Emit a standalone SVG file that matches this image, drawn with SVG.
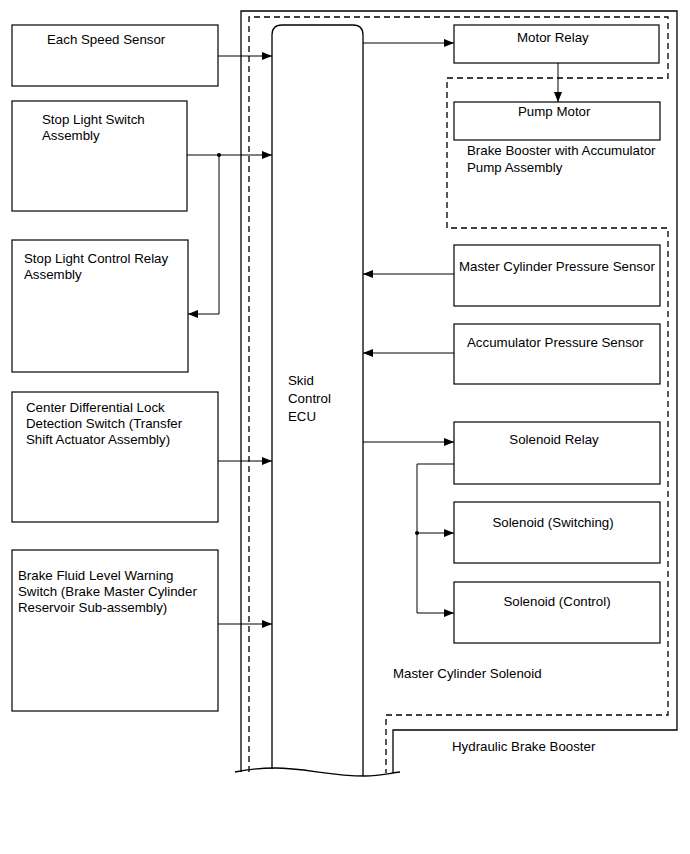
<svg xmlns="http://www.w3.org/2000/svg" width="690" height="854" viewBox="0 0 690 854">
<defs>
<marker id="ah" markerWidth="10" markerHeight="8" refX="10" refY="4" orient="auto" markerUnits="userSpaceOnUse">
<path d="M0,0 L10,4 L0,8 Z" fill="#000"/>
</marker>
</defs>
<style>
.box{fill:#fff;stroke:#000;stroke-width:1.2}
.t{font-family:"Liberation Sans",Arial,sans-serif;font-size:13.3px;fill:#000}
.c{fill:none;stroke:#000;stroke-width:1}
.a{marker-end:url(#ah)}
.dash{fill:none;stroke:#000;stroke-width:1.3;stroke-dasharray:6,4}
.solid{fill:none;stroke:#000;stroke-width:1.3}
</style>
<rect width="690" height="854" fill="#fff"/>
<g id="hydraulic-brake-booster">
<path class="solid" d="M241,772 L241,11 L677,11 L677,730 L393,730 L393,773"/>
<text class="t" x="452" y="751">Hydraulic Brake Booster</text>
</g>
<g id="master-cylinder-solenoid">
<path class="dash" d="M249,772 L249,17 L668,17 L668,78 L447,78 L447,228 L668,228 L668,715 L386,715 L386,773"/>
<text class="t" x="393" y="678">Master Cylinder Solenoid</text>
</g>
<g id="ecu">
<path class="solid" fill="#fff" d="M272,769 L272,35 Q272,25 282,25 L353,25 Q363,25 363,35 L363,776"/>
<path class="solid" d="M235,772 C250,769 262,768 275,768 C305,768 330,776 365,776 C380,776 390,773 400,772"/>
<text class="t" x="288" y="385">Skid</text>
<text class="t" x="288" y="403">Control</text>
<text class="t" x="288" y="421">ECU</text>
</g>
<g id="each-speed-sensor">
<rect class="box" x="12" y="25" width="206" height="61"/>
<text class="t" x="47" y="44">Each Speed Sensor</text>
</g>
<g id="stop-light-switch">
<rect class="box" x="12" y="101" width="175" height="110"/>
<text class="t" x="42" y="124">Stop Light Switch</text>
<text class="t" x="42" y="140">Assembly</text>
</g>
<g id="stop-light-control-relay">
<rect class="box" x="12" y="240" width="176" height="132"/>
<text class="t" x="24" y="263">Stop Light Control Relay</text>
<text class="t" x="24" y="279">Assembly</text>
</g>
<g id="center-diff-switch">
<rect class="box" x="12" y="392" width="206" height="130"/>
<text class="t" x="26" y="412">Center Differential Lock</text>
<text class="t" x="26" y="428">Detection Switch (Transfer</text>
<text class="t" x="26" y="444">Shift Actuator Assembly)</text>
</g>
<g id="brake-fluid-switch">
<rect class="box" x="12" y="550" width="206" height="161"/>
<text class="t" x="18" y="580">Brake Fluid Level Warning</text>
<text class="t" x="18" y="596">Switch (Brake Master Cylinder</text>
<text class="t" x="18" y="612">Reservoir Sub-assembly)</text>
</g>
<g id="motor-relay">
<rect class="box" x="454" y="25" width="205" height="38"/>
<text class="t" x="517" y="42">Motor Relay</text>
</g>
<g id="pump-motor">
<rect class="box" x="454" y="102" width="206" height="38"/>
<text class="t" x="518" y="116">Pump Motor</text>
<text class="t" x="467" y="155">Brake Booster with Accumulator</text>
<text class="t" x="467" y="172">Pump Assembly</text>
</g>
<g id="master-cylinder-pressure-sensor">
<rect class="box" x="454" y="245" width="206" height="61"/>
<text class="t" x="459" y="271">Master Cylinder Pressure Sensor</text>
</g>
<g id="accumulator-pressure-sensor">
<rect class="box" x="454" y="324" width="206" height="60"/>
<text class="t" x="467" y="347">Accumulator Pressure Sensor</text>
</g>
<g id="solenoid-relay">
<rect class="box" x="454" y="422" width="206" height="62"/>
<text class="t" x="554" y="444" text-anchor="middle">Solenoid Relay</text>
</g>
<g id="solenoid-switching">
<rect class="box" x="454" y="502" width="206" height="61"/>
<text class="t" x="553" y="527" text-anchor="middle">Solenoid (Switching)</text>
</g>
<g id="solenoid-control">
<rect class="box" x="454" y="582" width="206" height="61"/>
<text class="t" x="557" y="606" text-anchor="middle">Solenoid (Control)</text>
</g>
<g id="connectors">
<path class="c a" d="M218,56 L272,56"/>
<path class="c a" d="M187,155 L272,155"/>
<circle cx="219" cy="155" r="2" fill="#000"/>
<path class="c a" d="M219,155 L219,314 L188,314"/>
<path class="c a" d="M218,461 L272,461"/>
<path class="c a" d="M218,624 L272,624"/>
<path class="c a" d="M363,43 L454,43"/>
<path class="c a" d="M558,63 L558,102"/>
<path class="c a" d="M454,274 L363,274"/>
<path class="c a" d="M454,353 L363,353"/>
<path class="c a" d="M363,442 L454,442"/>
<path class="c" d="M454,464 L417,464 L417,533"/>
<circle cx="417" cy="533" r="2" fill="#000"/>
<path class="c a" d="M417,533 L454,533"/>
<path class="c a" d="M417,533 L417,613 L454,613"/>
</g>
</svg>
